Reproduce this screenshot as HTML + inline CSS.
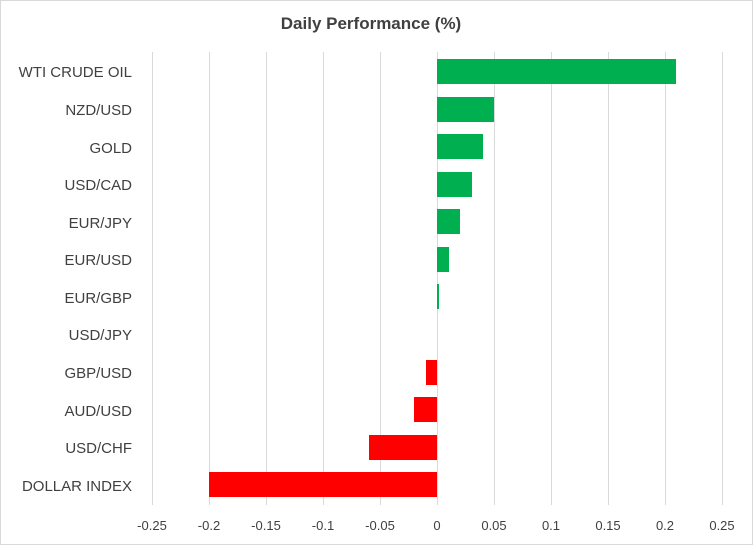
<!DOCTYPE html>
<html><head><meta charset="utf-8"><style>
body{margin:0;background:#fff}
svg text{font-family:"Liberation Sans",Arial,sans-serif;fill:#404040}
</style></head><body>
<svg width="753" height="545" viewBox="0 0 753 545" xmlns="http://www.w3.org/2000/svg">
<rect x="0.5" y="0.5" width="752" height="544" fill="#fff" stroke="#d9d9d9"/>
<text x="371" y="29" text-anchor="middle" font-size="17" font-weight="bold" fill="#404040">Daily Performance  (%)</text>
<g stroke="#d9d9d9" stroke-width="1">
<line x1="152.5" y1="52" x2="152.5" y2="505"/>
<line x1="209.5" y1="52" x2="209.5" y2="505"/>
<line x1="266.5" y1="52" x2="266.5" y2="505"/>
<line x1="323.5" y1="52" x2="323.5" y2="505"/>
<line x1="380.5" y1="52" x2="380.5" y2="505"/>
<line x1="437.5" y1="52" x2="437.5" y2="505"/>
<line x1="494.5" y1="52" x2="494.5" y2="505"/>
<line x1="551.5" y1="52" x2="551.5" y2="505"/>
<line x1="608.5" y1="52" x2="608.5" y2="505"/>
<line x1="665.5" y1="52" x2="665.5" y2="505"/>
<line x1="722.5" y1="52" x2="722.5" y2="505"/>
</g>
<g fill="#00B050">
<rect x="437" y="59" width="239" height="25"/>
<rect x="437" y="97" width="57" height="25"/>
<rect x="437" y="134" width="46" height="25"/>
<rect x="437" y="172" width="35" height="25"/>
<rect x="437" y="209" width="23" height="25"/>
<rect x="437" y="247" width="12" height="25"/>
<rect x="437" y="284" width="2" height="25"/>
</g>
<g fill="#FF0000">
<rect x="426" y="360" width="11" height="25"/>
<rect x="414" y="397" width="23" height="25"/>
<rect x="369" y="435" width="68" height="25"/>
<rect x="209" y="472" width="228" height="25"/>
</g>
<g font-size="15" text-anchor="end">
<text x="132" y="77">WTI CRUDE OIL</text>
<text x="132" y="115">NZD/USD</text>
<text x="132" y="153">GOLD</text>
<text x="132" y="190">USD/CAD</text>
<text x="132" y="228">EUR/JPY</text>
<text x="132" y="265">EUR/USD</text>
<text x="132" y="303">EUR/GBP</text>
<text x="132" y="340">USD/JPY</text>
<text x="132" y="378">GBP/USD</text>
<text x="132" y="416">AUD/USD</text>
<text x="132" y="453">USD/CHF</text>
<text x="132" y="491">DOLLAR INDEX</text>
</g>
<g font-size="13" text-anchor="middle">
<text x="152" y="530">-0.25</text>
<text x="209" y="530">-0.2</text>
<text x="266" y="530">-0.15</text>
<text x="323" y="530">-0.1</text>
<text x="380" y="530">-0.05</text>
<text x="437" y="530">0</text>
<text x="494" y="530">0.05</text>
<text x="551" y="530">0.1</text>
<text x="608" y="530">0.15</text>
<text x="665" y="530">0.2</text>
<text x="722" y="530">0.25</text>
</g>
</svg>
</body></html>
